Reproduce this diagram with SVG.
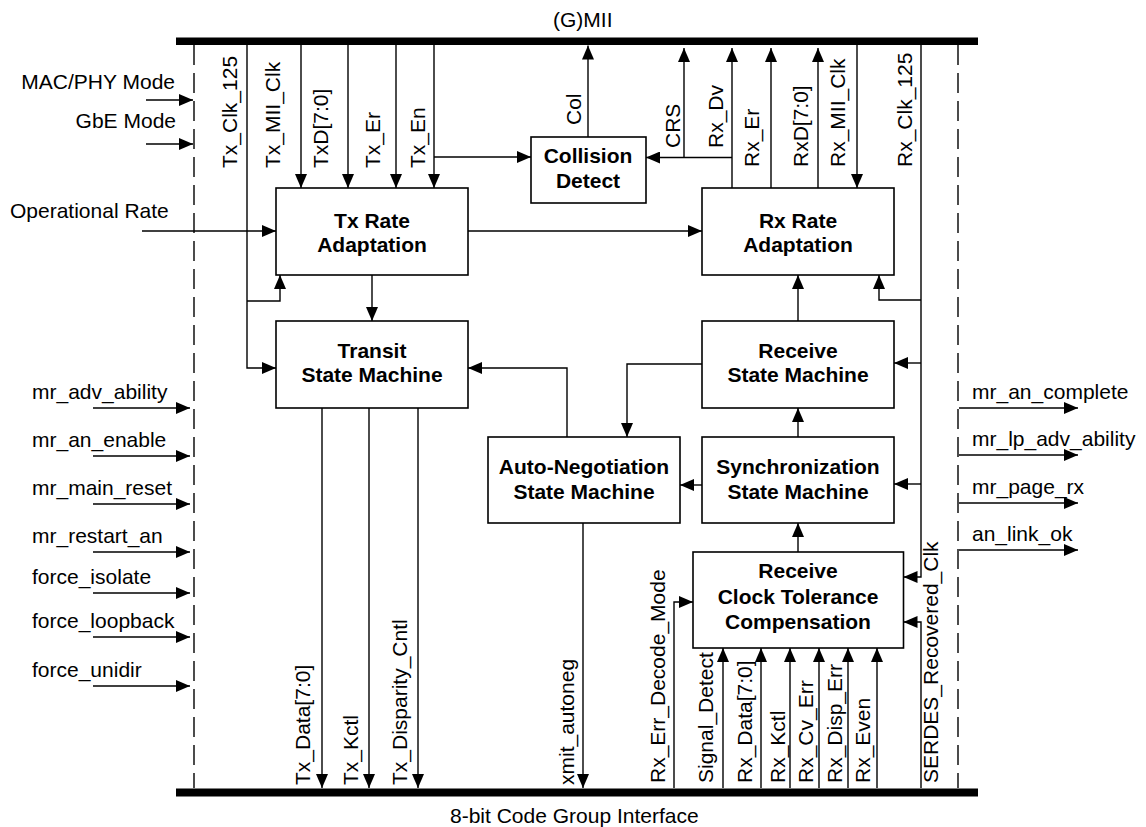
<svg xmlns="http://www.w3.org/2000/svg" width="1146" height="827" viewBox="0 0 1146 827">
<style>
text{font-family:"Liberation Sans",Arial,Helvetica,sans-serif;font-size:21px;fill:#000}
.b{font-weight:bold;text-anchor:middle}
.box{fill:#fff;stroke:#000;stroke-width:1.6}
.ln{fill:none;stroke:#000;stroke-width:1.4}
.ar{fill:none;stroke:#000;stroke-width:1.4;marker-end:url(#ah)}
.dash{fill:none;stroke:#000;stroke-width:1.4;stroke-dasharray:20 8}
.r{text-anchor:end}
</style>
<defs>
<marker id="ah" markerUnits="userSpaceOnUse" markerWidth="14" markerHeight="12" refX="14" refY="6" orient="auto">
<path d="M0,0 L14,6 L0,12 z" fill="#000"/>
</marker>
</defs>
<rect width="1146" height="827" fill="#fff"/>

<g id="buses">
<rect x="176" y="37.5" width="802" height="7.5" fill="#000"/>
<rect x="176" y="788.5" width="802" height="8" fill="#000"/>
<text x="553" y="27">(G)MII</text>
<text x="450" y="823">8-bit Code Group Interface</text>
<line class="dash" x1="194" y1="45" x2="194" y2="788"/>
<line class="dash" x1="958" y1="45" x2="958" y2="788"/>
</g>

<g id="connectors">
<path class="ar" d="M247,45 V368 H276"/>
<path class="ar" d="M247,301 H280 V275"/>
<path class="ar" d="M301,45 V188"/>
<path class="ar" d="M348,45 V188"/>
<path class="ar" d="M396,45 V188"/>
<path class="ar" d="M434,45 V188"/>
<path class="ar" d="M434,157 H531"/>
<path class="ar" d="M588,137 V45.5"/>
<path class="ar" d="M732,188 V48"/>
<path class="ar" d="M732,157.5 H646"/>
<path class="ar" d="M684,157.5 V48"/>
<path class="ar" d="M771,188 V48"/>
<path class="ar" d="M818,188 V48"/>
<path class="ar" d="M857,45 V188"/>
<path class="ar" d="M921,45 V577 H903.5"/>
<path class="ar" d="M921,300 H879 V275"/>
<path class="ar" d="M921,363 H894"/>
<path class="ar" d="M921,484 H894"/>
<path class="ar" d="M921,788 V622 H903.5"/>
<path class="ar" d="M142,231 H276"/>
<path class="ar" d="M468,231 H702"/>
<path class="ar" d="M372,275 V321"/>
<path class="ar" d="M798,321 V275"/>
<path class="ar" d="M798,437 V408"/>
<path class="ar" d="M798,552 V523"/>
<path class="ar" d="M702,485 H680"/>
<path class="ar" d="M702,364 H627 V437"/>
<path class="ar" d="M567,437 V368 H468"/>
<path class="ar" d="M583,523 V788"/>
<path class="ar" d="M322,408 V788"/>
<path class="ar" d="M369,408 V788"/>
<path class="ar" d="M418,408 V788"/>
<path class="ar" d="M674,788 V602 H693"/>
<path class="ar" d="M723,788 V648"/>
<path class="ar" d="M761,788 V648"/>
<path class="ar" d="M790,788 V648"/>
<path class="ar" d="M819,788 V648"/>
<path class="ar" d="M848,788 V648"/>
<path class="ar" d="M877,788 V648"/>
<path class="ar" d="M146,100 H193"/>
<path class="ar" d="M146,144 H193"/>
<path class="ar" d="M93,408 H190"/>
<path class="ar" d="M93,456 H190"/>
<path class="ar" d="M93,504 H190"/>
<path class="ar" d="M93,552 H190"/>
<path class="ar" d="M93,593 H190"/>
<path class="ar" d="M93,637 H190"/>
<path class="ar" d="M93,686 H190"/>
<path class="ar" d="M959,408 H1078"/>
<path class="ar" d="M959,455 H1078"/>
<path class="ar" d="M959,503 H1078"/>
<path class="ar" d="M959,550 H1078"/>
</g>

<g id="signal-labels">
<text transform="translate(237,168) rotate(-90)">Tx_Clk_125</text>
<text transform="translate(280,168) rotate(-90)">Tx_MII_Clk</text>
<text transform="translate(328,168) rotate(-90)">TxD[7:0]</text>
<text transform="translate(380,168) rotate(-90)">Tx_Er</text>
<text transform="translate(425,168) rotate(-90)">Tx_En</text>
<text transform="translate(581,125) rotate(-90)">Col</text>
<text transform="translate(680,148) rotate(-90)">CRS</text>
<text transform="translate(723,148) rotate(-90)">Rx_Dv</text>
<text transform="translate(759,167) rotate(-90)">Rx_Er</text>
<text transform="translate(808,167) rotate(-90)">RxD[7:0]</text>
<text transform="translate(845,167) rotate(-90)">Rx_MII_Clk</text>
<text transform="translate(912,167) rotate(-90)">Rx_Clk_125</text>
<text transform="translate(310,785) rotate(-90)">Tx_Data[7:0]</text>
<text transform="translate(358,785) rotate(-90)">Tx_Kctl</text>
<text transform="translate(407,785) rotate(-90)">Tx_Disparity_Cntl</text>
<text transform="translate(574,785) rotate(-90)">xmit_autoneg</text>
<text transform="translate(665,783) rotate(-90)">Rx_Err_Decode_Mode</text>
<text transform="translate(713,783) rotate(-90)">Signal_Detect</text>
<text transform="translate(752,783) rotate(-90)">Rx_Data[7:0]</text>
<text transform="translate(785,783) rotate(-90)">Rx_Kctl</text>
<text transform="translate(813,783) rotate(-90)">Rx_Cv_Err</text>
<text transform="translate(842,783) rotate(-90)">Rx_Disp_Err</text>
<text transform="translate(870,783) rotate(-90)">Rx_Even</text>
<text transform="translate(938,783) rotate(-90)">SERDES_Recovered_Clk</text>
<text class="r" x="175" y="89">MAC/PHY Mode</text>
<text class="r" x="176" y="128">GbE Mode</text>
<text x="10" y="218">Operational Rate</text>
<text x="32" y="399">mr_adv_ability</text>
<text x="32" y="447">mr_an_enable</text>
<text x="32" y="495">mr_main_reset</text>
<text x="32" y="543">mr_restart_an</text>
<text x="32" y="584">force_isolate</text>
<text x="32" y="628">force_loopback</text>
<text x="32" y="677">force_unidir</text>
<text x="972" y="399">mr_an_complete</text>
<text x="972" y="446">mr_lp_adv_ability</text>
<text x="972" y="494">mr_page_rx</text>
<text x="972" y="541">an_link_ok</text>
</g>

<g id="tx-rate">
<rect class="box" x="276" y="188" width="192" height="87"/>
<text class="b" x="372" y="228">Tx Rate</text>
<text class="b" x="372" y="252">Adaptation</text>
</g>
<g id="collision-detect">
<rect class="box" x="531" y="137" width="115" height="66"/>
<text class="b" x="588" y="163">Collision</text>
<text class="b" x="588" y="188">Detect</text>
</g>
<g id="rx-rate">
<rect class="box" x="702" y="188" width="192" height="87"/>
<text class="b" x="798" y="228">Rx Rate</text>
<text class="b" x="798" y="252">Adaptation</text>
</g>
<g id="transit-sm">
<rect class="box" x="276" y="321" width="192" height="87"/>
<text class="b" x="372" y="358">Transit</text>
<text class="b" x="372" y="382">State Machine</text>
</g>
<g id="receive-sm">
<rect class="box" x="702" y="321" width="192" height="87"/>
<text class="b" x="798" y="358">Receive</text>
<text class="b" x="798" y="382">State Machine</text>
</g>
<g id="autoneg-sm">
<rect class="box" x="488" y="437" width="192" height="86"/>
<text class="b" x="584" y="474">Auto-Negotiation</text>
<text class="b" x="584" y="499">State Machine</text>
</g>
<g id="sync-sm">
<rect class="box" x="702" y="437" width="192" height="86"/>
<text class="b" x="798" y="474">Synchronization</text>
<text class="b" x="798" y="499">State Machine</text>
</g>
<g id="rx-ctc">
<rect class="box" x="693" y="552" width="210.5" height="96"/>
<text class="b" x="798" y="578">Receive</text>
<text class="b" x="798" y="604">Clock Tolerance</text>
<text class="b" x="798" y="629">Compensation</text>
</g>
</svg>
